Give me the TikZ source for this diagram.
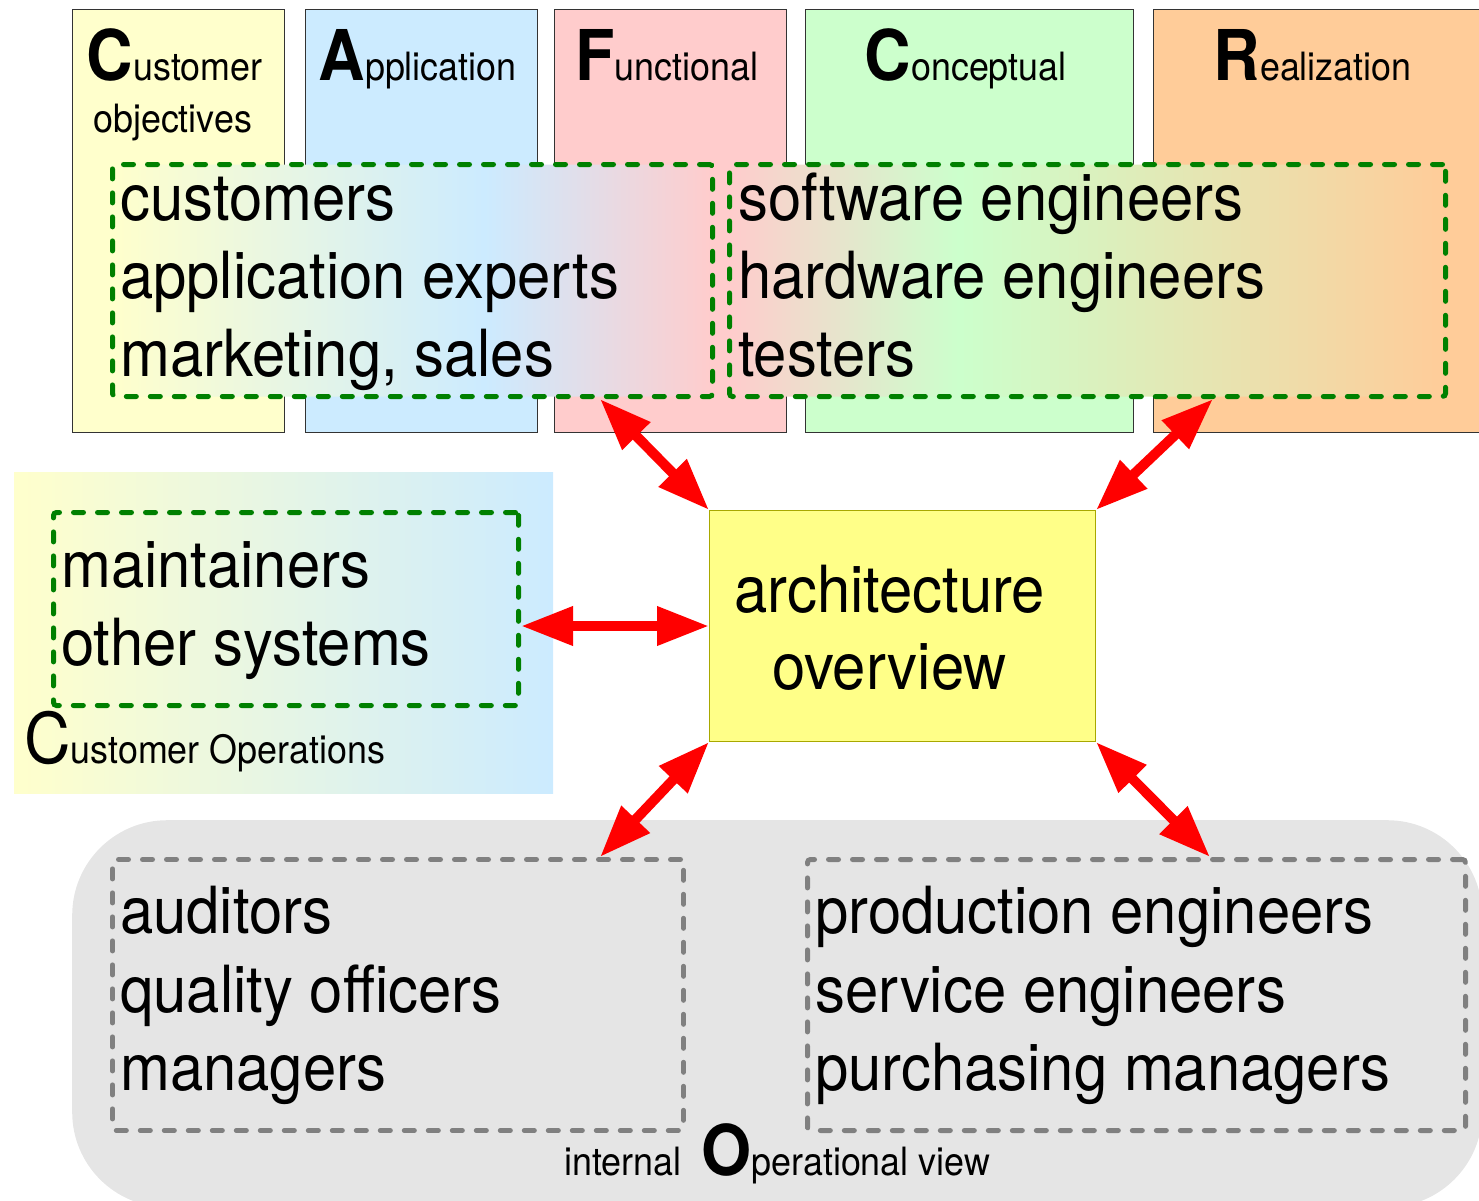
\documentclass[tikz,border=0pt]{standalone}
\usepackage{fontspec}
\setmainfont{TeX Gyre Heros}[FakeStretch=0.92]
\usetikzlibrary{positioning,arrows.meta,shadings}

\definecolor{custY}{HTML}{FFFFCC}
\definecolor{appB}{HTML}{CCEBFF}
\definecolor{funcR}{HTML}{FFCCCC}
\definecolor{concG}{HTML}{CCFFCC}
\definecolor{realO}{HTML}{FFCC99}
\definecolor{archY}{HTML}{FFFF88}
\definecolor{archE}{HTML}{A8A800}
\definecolor{opsG}{HTML}{E5E5E5}
\definecolor{grpGreen}{HTML}{008000}
\definecolor{grpGray}{HTML}{808080}

% gradients behind the stakeholder groups
\pgfdeclarehorizontalshading{leftgrp}{100bp}{color(0bp)=(custY); color(25bp)=(custY); color(56bp)=(appB); color(75bp)=(funcR); color(100bp)=(funcR)}
\pgfdeclarehorizontalshading{rightgrp}{100bp}{color(0bp)=(funcR); color(25bp)=(funcR); color(41bp)=(concG); color(75bp)=(realO); color(100bp)=(realO)}

\newcommand{\bigini}[1]{{\fontsize{70}{70}\selectfont\bfseries #1}}

\tikzset{
  colbox/.style = {draw=black!80, line width=1.2pt, anchor=north west, inner sep=0pt},
  grpbox/.style = {line width=5pt, dash pattern=on 10pt off 14pt, line cap=round,
                   rounded corners=3pt, anchor=north west, inner sep=0pt},
  bigtxt/.style = {font=\fontsize{65}{78}\selectfont, inner sep=0pt, anchor=base west},
  ttl/.style    = {font=\fontsize{39}{47}\selectfont, inner sep=0pt, anchor=base},
  biarrow/.style = {draw=red, line width=10pt,
                    {Triangle[length=52pt,width=37pt]}-{Triangle[length=52pt,width=37pt]}}
}

\begin{document}
\begin{tikzpicture}[x=1pt, y=-1pt]
  \useasboundingbox (0,0) rectangle (1479,1200);

  % CAFCR columns
  \node[colbox, fill=custY, minimum width=212, minimum height=423] (cust) at (72,9) {};
  \node[colbox, fill=appB, minimum width=232, minimum height=423] (app) at (305,9) {};
  \node[colbox, fill=funcR, minimum width=232, minimum height=423] (func) at (554,9) {};
  \node[colbox, fill=concG, minimum width=328, minimum height=423] (conc) at (805,9) {};
  \node[colbox, fill=realO, minimum width=340, minimum height=423] (real) at (1153,9) {};

  % column titles
  \node[ttl] (tcust) at ([xshift=-4pt,yshift=-71pt]cust.north) {\bigini{C}ustomer};
  \node[ttl] (tobj) at ([xshift=-2pt,yshift=-52pt]tcust.base) {objectives};
  \node[ttl] (tapp) at ([xshift=-4pt,yshift=-71pt]app.north) {\bigini{A}pplication};
  \node[ttl] (tfunc) at ([xshift=-4pt,yshift=-71pt]func.north) {\bigini{F}unctional};
  \node[ttl] (tconc) at ([xshift=-4pt,yshift=-71pt]conc.north) {\bigini{C}onceptual};
  \node[ttl] (treal) at ([xshift=-11pt,yshift=-71pt]real.north) {\bigini{R}ealization};

  % stakeholder groups over the columns
  \node[grpbox, draw=grpGreen, shading=leftgrp, minimum width=600, minimum height=232] (grpL) at (110,162) {};
  \node[grpbox, draw=grpGreen, shading=rightgrp, minimum width=716, minimum height=232] (grpR) at (727,162) {};

  \node[bigtxt] (cus) at ([xshift=10pt,yshift=-58pt]grpL.north west) {customers};
  \node[bigtxt] (apx) at ([yshift=-78pt]cus.base west) {application experts};
  \node[bigtxt] (mks) at ([yshift=-78pt]apx.base west) {marketing, sales};

  \node[bigtxt] (swe) at ([xshift=11pt,yshift=-58pt]grpR.north west) {software engineers};
  \node[bigtxt] (hwe) at ([yshift=-78pt]swe.base west) {hardware engineers};
  \node[bigtxt] (tst) at ([yshift=-78pt]hwe.base west) {testers};

  % Customer Operations
  \node[anchor=north west, inner sep=0pt, left color=custY, right color=appB,
        minimum width=539, minimum height=321] (cops) at (14,472) {};
  \node[grpbox, draw=grpGreen, minimum width=465, minimum height=193] (grpM) at (51,510) {};
  \node[bigtxt] (mnt) at ([xshift=10pt,yshift=-77pt]grpM.north west) {maintainers};
  \node[bigtxt] (oth) at ([yshift=-78pt]mnt.base west) {other systems};
  \node[ttl, anchor=base west] (copsl) at ([xshift=10pt,yshift=-291pt]cops.north west)
       {{\fontsize{70}{70}\selectfont C}ustomer Operations};

  % architecture overview
  \node[colbox, draw=archE, line width=1pt, fill=archY, minimum width=386, minimum height=231] (arch) at (709,510) {};
  \node[font=\fontsize{65}{77}\selectfont, align=center, inner sep=0pt] (archtxt)
       at ([xshift=-13pt,yshift=-2pt]arch.center) {architecture\\overview};

  % internal Operational view
  \node[fill=opsG, rounded corners=95pt, anchor=north west, inner sep=0pt,
        minimum width=1410, minimum height=387] (opsbg) at (72,820) {};
  \node[grpbox, draw=grpGray, minimum width=571, minimum height=271] (grpA) at (110,857) {};
  \node[grpbox, draw=grpGray, minimum width=658, minimum height=271] (grpP) at (805,857) {};

  \node[bigtxt] (aud) at ([xshift=10pt,yshift=-76pt]grpA.north west) {auditors};
  \node[bigtxt] (qof) at ([yshift=-79pt]aud.base west) {quality officers};
  \node[bigtxt] (mgr) at ([yshift=-78pt]qof.base west) {managers};

  \node[bigtxt] (pre) at ([xshift=10pt,yshift=-76pt]grpP.north west) {production engineers};
  \node[bigtxt] (sve) at ([yshift=-79pt]pre.base west) {service engineers};
  \node[bigtxt] (pme) at ([yshift=-78pt]sve.base west) {purchasing managers};

  \node[ttl] (opsl) at ([yshift=32pt]opsbg.south) {internal\hspace{20pt}\bigini{O}perational view};

  % arrow ends on the groups
  \coordinate (pFL) at ([xshift=-115pt]grpL.south east);
  \coordinate (pFR) at ([xshift=-235pt]grpR.south east);
  \coordinate (pAu) at ([xshift=-86pt]grpA.north east);
  \coordinate (pPr) at ([xshift=405pt]grpP.north west);

  % double arrows to the architecture overview
  \draw[biarrow] (pFL) -- (arch.north west);
  \draw[biarrow] (pFR) -- (arch.north east);
  \draw[biarrow] (grpM.east |- arch.west) -- (arch.west);
  \draw[biarrow] (arch.south west) -- (pAu);
  \draw[biarrow] (arch.south east) -- (pPr);
\end{tikzpicture}
\end{document}
